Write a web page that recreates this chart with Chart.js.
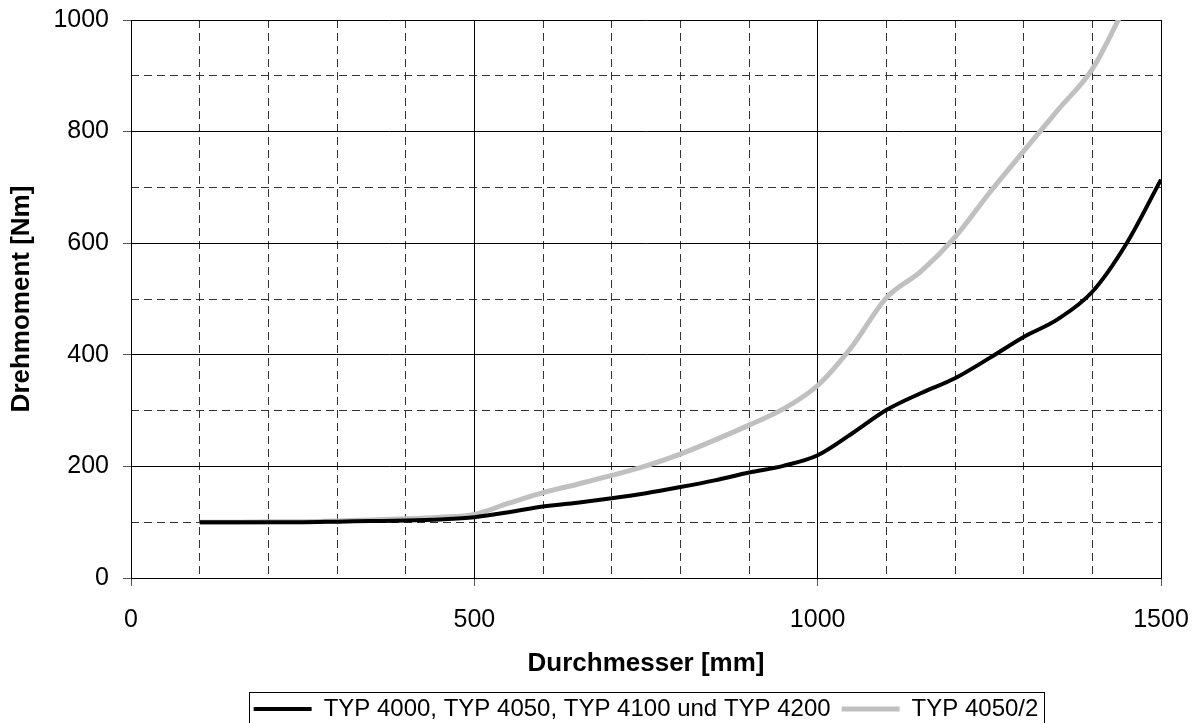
<!DOCTYPE html>
<html>
<head>
<meta charset="utf-8">
<script src="https://cdn.jsdelivr.net/npm/chart.js@4/dist/chart.umd.min.js"></script>
<style>
  html, body { margin: 0; padding: 0; background: #fff; }
  #wrap { width: 1199px; height: 723px; }
</style>
</head>
<body>
<div id="wrap"><canvas id="lineChart"></canvas></div>
<script>
// Durchmesser [mm] / Drehmoment [Nm]
var blackX = [100, 150, 200, 250, 300, 350, 400, 450, 500, 550, 600, 650, 700, 750, 800,
              850, 900, 950, 1000, 1050, 1100, 1150, 1200, 1250, 1300, 1350, 1400, 1450, 1500];
var blackY = [100, 100, 100, 100, 101, 102, 103, 105, 109, 118, 128, 135, 143, 152, 163,
              175, 189, 201, 220, 259, 301, 331, 358, 394, 432, 464, 513, 600, 714];

var grayX = [100, 150, 200, 250, 300, 350, 400, 450, 500, 550, 600, 650, 700, 750, 800,
             850, 900, 950, 1000, 1050, 1100, 1150, 1200, 1250, 1300, 1350, 1400, 1450];
var grayY = [100, 100, 101, 101, 102, 104, 106, 109, 114, 134, 153, 168, 184, 201, 222,
             247, 274, 303, 345, 415, 502, 549, 611, 690, 765, 839, 912, 1030];

var seriesNames = ['TYP 4000, TYP 4050, TYP 4100 und TYP 4200', 'TYP 4050/2'];
var xTitle = 'Durchmesser [mm]';
var yTitle = 'Drehmoment [Nm]';

function toPoints(xs, ys) {
    var pts = [];
    for (var i = 0; i < xs.length; i++) pts.push({x: xs[i], y: ys[i]});
    return pts;
}

Chart.defaults.font.family = '"Liberation Sans", Arial, sans-serif';
Chart.defaults.color = '#000';

// rectangle round the legend
var legendFrame = {
    id: 'legendFrame',
    afterDraw: function(chart) {
        var hb = chart.legend.legendHitBoxes;
        if (!hb || !hb.length) return;
        var last = hb[hb.length - 1];
        var ctx = chart.ctx;
        ctx.save();
        ctx.strokeStyle = '#000';
        ctx.lineWidth = 1;
        ctx.strokeRect(Math.round(hb[0].left - 5) + 0.5, Math.round(hb[0].top - 5) + 0.5,
                       Math.round(last.left + last.width + 5 - hb[0].left + 5),
                       Math.round(hb[0].height + 7));
        ctx.restore();
    }
};

var minorColor = function(step) {
    return function(c) {
        return (c.tick && c.tick.value % step === 0) ? 'rgba(0,0,0,0)' : '#333';
    };
};

var plainTick = function(v) { return String(v); };

var ctx = document.getElementById('lineChart').getContext('2d');

var lineChart = new Chart(ctx, {
    type: 'line',
    data: {
        datasets: [{
            label: seriesNames[0],
            data: toPoints(blackX, blackY),
            borderColor: '#000',
            backgroundColor: '#000',
            borderWidth: 4,
            pointRadius: 0,
            cubicInterpolationMode: 'monotone'
        }, {
            label: seriesNames[1],
            data: toPoints(grayX, grayY),
            borderColor: '#c0c0c0',
            backgroundColor: '#c0c0c0',
            borderWidth: 5,
            pointRadius: 0,
            cubicInterpolationMode: 'monotone'
        }]
    },
    options: {
        responsive: true,
        maintainAspectRatio: false,
        animation: false,
        layout: { padding: { top: 20, right: 38, left: 0, bottom: -8 } },
        plugins: {
            tooltip: { enabled: false },
            legend: {
                position: 'bottom',
                fullSize: false,
                labels: {
                    usePointStyle: true,
                    pointStyle: 'line',
                    pointStyleWidth: 58,
                    padding: 11,
                    font: { size: 24 }
                }
            }
        },
        scales: {
            x: {
                type: 'linear',
                min: 0,
                max: 1500,
                ticks: { stepSize: 500, padding: 19, font: { size: 25 }, maxRotation: 0, callback: plainTick },
                grid: { color: '#000', tickColor: '#555', tickLength: 8 },
                border: { color: '#000' },
                title: { display: true, text: xTitle, font: { size: 26, weight: 'bold' }, padding: { top: 0, bottom: 7 } },
                afterFit: function(s) { s.height = 108; s.paddingLeft = 0; s.paddingRight = 0; }
            },
            x2: {
                type: 'linear',
                position: 'bottom',
                min: 0,
                max: 1500,
                ticks: { stepSize: 100, display: false },
                grid: { color: minorColor(500), drawTicks: false },
                border: { display: false, dash: [8, 5] },
                afterFit: function(s) { s.height = 0; s.paddingLeft = 0; s.paddingRight = 0; }
            },
            y: {
                min: 0,
                max: 1000,
                ticks: { stepSize: 200, padding: 14, font: { size: 25 }, callback: plainTick },
                grid: { color: '#000', tickColor: '#555', tickLength: 8 },
                border: { color: '#000' },
                title: { display: true, text: yTitle, font: { size: 26, weight: 'bold' }, padding: { top: 6, bottom: 0 } },
                afterFit: function(s) { s.width = 131; s.paddingTop = 0; s.paddingBottom = 0; }
            },
            y2: {
                position: 'left',
                min: 0,
                max: 1000,
                ticks: { stepSize: 100, display: false },
                grid: { color: minorColor(200), drawTicks: false },
                border: { display: false, dash: [8, 5] },
                afterFit: function(s) { s.width = 0; s.paddingTop = 0; s.paddingBottom = 0; }
            }
        }
    },
    plugins: [legendFrame]
});
</script>
</body>
</html>
